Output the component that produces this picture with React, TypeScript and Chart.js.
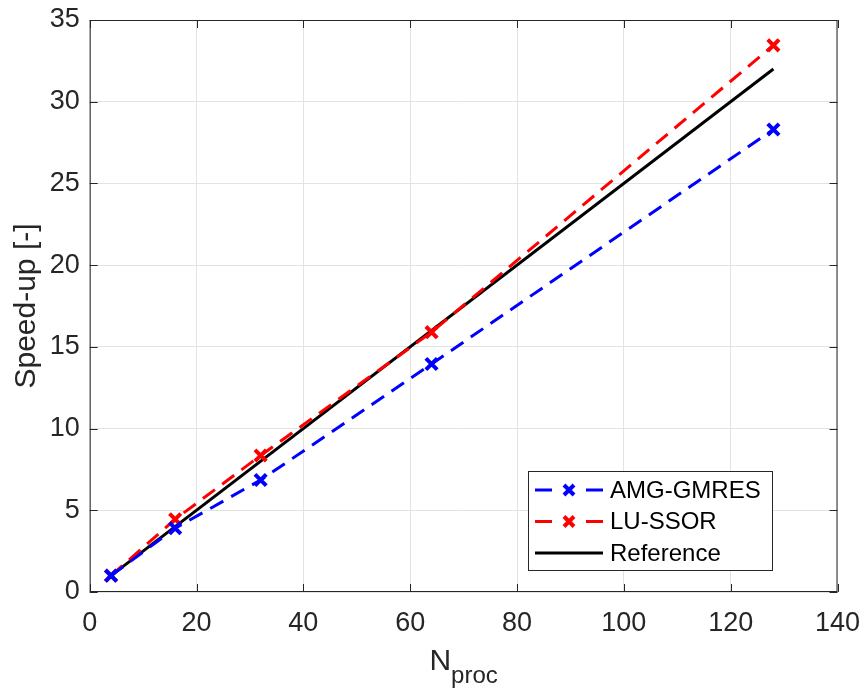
import React, { useEffect, useRef } from "react";
import { Chart, registerables } from "chart.js";

Chart.register(...registerables);

const nproc = [4, 16, 32, 64, 128];
const amgGmres = [1, 3.9, 6.85, 13.95, 28.3];
const luSsor = [1, 4.45, 8.35, 15.9, 33.45];
const refX = [4, 128];
const refY = [1, 32];

const xTicks = [0, 20, 40, 60, 80, 100, 120, 140];
const yTicks = [0, 5, 10, 15, 20, 25, 30, 35];

const seriesNames = ["AMG-GMRES", "LU-SSOR", "Reference"];
const seriesColors = ["#0000ff", "#ff0000", "#000000"];

const FONT = "'Liberation Sans', Arial, Helvetica, sans-serif";
const TXT = "#262626";

const decorPlugin = {
  id: "decor",
  afterDraw(chart: any) {
    const ctx = chart.ctx as CanvasRenderingContext2D;
    const a = chart.chartArea;
    const xs = chart.scales.x;
    const ys = chart.scales.y;
    ctx.save();
    // box
    ctx.strokeStyle = TXT;
    ctx.lineWidth = 1;
    ctx.strokeRect(a.left + 0.5, a.top + 0.5, a.right - a.left - 1, a.bottom - a.top - 1);
    // inward ticks
    const tl = 8;
    ctx.beginPath();
    xTicks.forEach((v) => {
      const px = Math.round(xs.getPixelForValue(v)) + 0.5;
      ctx.moveTo(px, a.bottom);
      ctx.lineTo(px, a.bottom - tl);
      ctx.moveTo(px, a.top);
      ctx.lineTo(px, a.top + tl);
    });
    yTicks.forEach((v) => {
      const py = Math.round(ys.getPixelForValue(v)) + 0.5;
      ctx.moveTo(a.left, py);
      ctx.lineTo(a.left + tl, py);
      ctx.moveTo(a.right, py);
      ctx.lineTo(a.right - tl, py);
    });
    ctx.stroke();

    // axis titles
    ctx.fillStyle = TXT;
    ctx.save();
    ctx.translate(27, (a.top + a.bottom) / 2);
    ctx.rotate(-Math.PI / 2);
    ctx.font = `30px ${FONT}`;
    ctx.textAlign = "center";
    ctx.textBaseline = "middle";
    ctx.fillText("Speed-up [-]", 0, 0);
    ctx.restore();

    ctx.textAlign = "left";
    ctx.textBaseline = "alphabetic";
    ctx.font = `30px ${FONT}`;
    const wN = ctx.measureText("N").width;
    ctx.font = `24px ${FONT}`;
    const wP = ctx.measureText("proc").width;
    const cx = (a.left + a.right) / 2;
    const x0 = cx - (wN + wP) / 2;
    ctx.font = `30px ${FONT}`;
    ctx.fillText("N", x0, 670);
    ctx.font = `24px ${FONT}`;
    ctx.fillText("proc", x0 + wN, 683);

    // legend
    const lx = 528, ly = 471, lw = 244, lh = 99;
    ctx.fillStyle = "#ffffff";
    ctx.fillRect(lx, ly, lw, lh);
    ctx.strokeStyle = TXT;
    ctx.lineWidth = 1;
    ctx.strokeRect(lx + 0.5, ly + 0.5, lw, lh);
    const rowsY = [490, 521.5, 553];
    seriesNames.forEach((name, i) => {
      const y = rowsY[i];
      ctx.strokeStyle = seriesColors[i];
      ctx.lineWidth = 3;
      ctx.beginPath();
      if (i < 2) {
        ctx.moveTo(535, y); ctx.lineTo(552, y);
        ctx.moveTo(586, y); ctx.lineTo(603, y);
        ctx.stroke();
        const r = 5;
        ctx.lineWidth = 4;
        ctx.beginPath();
        ctx.moveTo(569 - r, y - r); ctx.lineTo(569 + r, y + r);
        ctx.moveTo(569 - r, y + r); ctx.lineTo(569 + r, y - r);
        ctx.stroke();
      } else {
        ctx.moveTo(535, y); ctx.lineTo(603, y);
        ctx.stroke();
      }
      ctx.fillStyle = "#000000";
      ctx.font = `24px ${FONT}`;
      ctx.textBaseline = "middle";
      ctx.fillText(name, 610, y + 1);
    });
    ctx.restore();
  },
};

export default function App() {
  const ref = useRef<HTMLCanvasElement>(null);
  useEffect(() => {
    document.body.style.margin = "0";
    const ctx = ref.current!.getContext("2d")!;
    const mk = (xs: number[], ys: number[]) => xs.map((x, i) => ({ x, y: ys[i] }));
    const chart = new Chart(ctx, {
      type: "line",
      data: {
        datasets: [
          {
            label: seriesNames[0],
            data: mk(nproc, amgGmres),
            borderColor: seriesColors[0],
            backgroundColor: seriesColors[0],
            borderWidth: 3,
            borderDash: [15, 9],
            pointStyle: "crossRot",
            pointRadius: 8,
            pointBorderWidth: 4,
            fill: false,
            tension: 0,
          },
          {
            label: seriesNames[1],
            data: mk(nproc, luSsor),
            borderColor: seriesColors[1],
            backgroundColor: seriesColors[1],
            borderWidth: 3,
            borderDash: [15, 9],
            pointStyle: "crossRot",
            pointRadius: 8,
            pointBorderWidth: 4,
            fill: false,
            tension: 0,
          },
          {
            label: seriesNames[2],
            data: mk(refX, refY),
            borderColor: seriesColors[2],
            backgroundColor: seriesColors[2],
            borderWidth: 3,
            pointRadius: 0,
            fill: false,
            tension: 0,
          },
        ],
      },
      options: {
        responsive: false,
        animation: false,
        devicePixelRatio: 1,
        layout: { padding: { top: 20, right: 26.5, left: 0, bottom: 0 } },
        plugins: { legend: { display: false }, tooltip: { enabled: false } },
        scales: {
          x: {
            type: "linear",
            min: 0,
            max: 140,
            afterFit: (s: any) => { s.height = 100; s.paddingLeft = 0; s.paddingRight = 0; },
            afterBuildTicks: (s: any) => { s.ticks = xTicks.map((v) => ({ value: v })); },
            ticks: { font: { family: FONT, size: 27 }, color: TXT, padding: 15, maxRotation: 0 },
            grid: { color: "#e3e3e3", drawTicks: false, lineWidth: 1 },
            border: { display: false },
          },
          y: {
            type: "linear",
            min: 0,
            max: 35,
            afterFit: (s: any) => { s.width = 89.7; s.paddingTop = 0; s.paddingBottom = 0; },
            afterBuildTicks: (s: any) => { s.ticks = yTicks.map((v) => ({ value: v })); },
            ticks: { font: { family: FONT, size: 27 }, color: TXT, padding: 10 },
            grid: { color: "#e3e3e3", drawTicks: false, lineWidth: 1 },
            border: { display: false },
          },
        },
      },
      plugins: [decorPlugin],
    });
    return () => chart.destroy();
  }, []);
  return (
    <div style={{ position: "absolute", left: 0, top: 0, width: 864, height: 692, background: "#fff" }}>
      <canvas ref={ref} width={864} height={692} />
    </div>
  );
}
